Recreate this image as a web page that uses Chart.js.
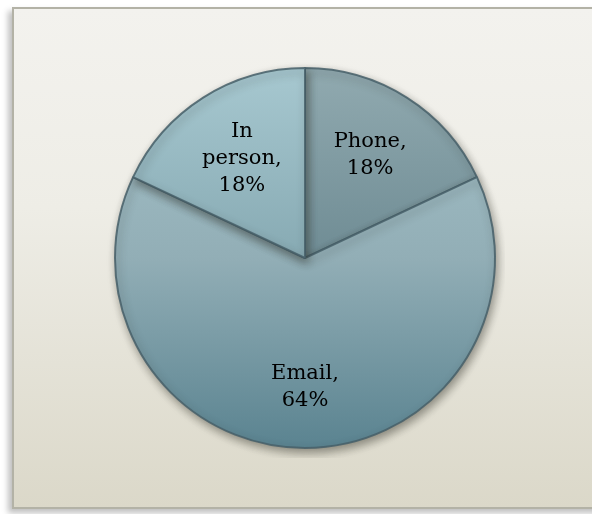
<!DOCTYPE html>
<html lang="en-US">
<head>
  <meta charset="utf-8">
  <title>Contact channels | pie</title>
  <script src="https://cdn.jsdelivr.net/npm/chart.js@4/dist/chart.umd.min.js"></script>
  <style>
    html, body { margin: 0; padding: 0; background: #ffffff; }
    body { width: 592px; height: 514px; position: relative; overflow: hidden; }
    .frame {
      position: absolute; left: 12px; top: 7px; width: 600px; height: 498px;
      border: 2px solid #b3b2a6;
      background: linear-gradient(to bottom, #f3f2ee 0%, #eeede6 40%, #dbd8c9 100%);
      box-shadow: -4px 4px 6px rgba(0,0,0,0.25);
    }
    .wrapper { position: absolute; left: 105px; top: 58px; width: 400px; height: 400px; }
  </style>
</head>
<body>
  <div class="frame"></div>
  <div class="wrapper">
    <canvas id="chart-0"></canvas>
  </div>

  <script>
    // data
    let labels = ['Phone', 'Email', 'In person'];
    let values = [18, 64, 18];

    // top / middle / bottom colours of each slice
    let topColors = ['#91aab0', '#a6c3ca', '#a7c8d0'];
    let midColors = ['#6f8c94', '#92aeb6', '#87aab3'];
    let bottomColors = ['#4f6f79', '#5a8390', '#6a8f99'];

    function sliceFill(context) {
      let chart = context.chart;
      let area = chart.chartArea;
      let i = context.dataIndex;
      if (!area) return midColors[i];
      let g = chart.ctx.createLinearGradient(0, area.top, 0, area.bottom);
      g.addColorStop(0, topColors[i]);
      g.addColorStop(0.5, midColors[i]);
      g.addColorStop(1, bottomColors[i]);
      return g;
    }

    // drop shadow under the pie
    let shadowPlugin = {
      id: 'pieShadow',
      beforeDatasetDraw: function(chart) {
        let ctx = chart.ctx;
        ctx.save();
        ctx.shadowColor = 'rgba(40,40,30,0.45)';
        ctx.shadowBlur = 8;
        ctx.shadowOffsetX = 2;
        ctx.shadowOffsetY = 4;
      },
      afterDatasetDraw: function(chart) {
        chart.ctx.restore();
      }
    };

    // "Name, NN%" labels inside the slices
    let labelPlugin = {
      id: 'sliceLabels',
      afterDatasetsDraw: function(chart) {
        let ctx = chart.ctx;
        let meta = chart.getDatasetMeta(0);
        let lines = [['Phone,', '18%'], ['Email,', '64%'], ['In', 'person,', '18%']];
        let fracs = [0.64, 0.68, 0.62];
        ctx.save();
        ctx.fillStyle = '#000000';
        ctx.font = '21px "DejaVu Serif", serif';
        ctx.textAlign = 'center';
        ctx.textBaseline = 'middle';
        meta.data.forEach(function(arc, i) {
          let p = arc.getProps(['x', 'y', 'startAngle', 'endAngle', 'outerRadius'], true);
          let mid = (p.startAngle + p.endAngle) / 2;
          let r = p.outerRadius * fracs[i];
          let cx = p.x + Math.cos(mid) * r;
          let cy = p.y + Math.sin(mid) * r;
          let lh = 27;
          let txt = lines[i];
          txt.forEach(function(t, k) {
            ctx.fillText(t, cx, cy + (k - (txt.length - 1) / 2) * lh);
          });
        });
        ctx.restore();
      }
    };

    let chart = new Chart('chart-0', {
      type: 'pie',
      data: {
        labels: labels,
        datasets: [{
          data: values,
          backgroundColor: sliceFill,
          borderColor: 'rgba(70,95,105,0.85)',
          borderWidth: 2
        }]
      },
      options: {
        responsive: true,
        maintainAspectRatio: false,
        animation: false,
        layout: { padding: 9 },
        plugins: {
          legend: { display: false },
          tooltip: { enabled: false }
        }
      },
      plugins: [shadowPlugin, labelPlugin]
    });
  </script>
</body>
</html>
